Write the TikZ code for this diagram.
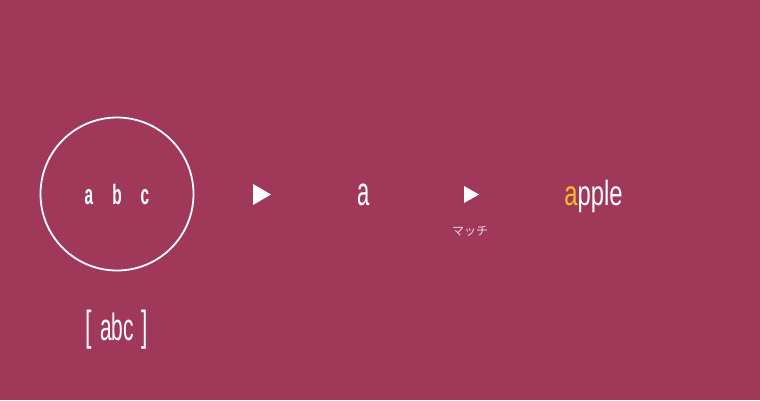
\documentclass[tikz,border=0pt]{standalone}
\usepackage{fontspec}
\newfontfamily\condfont[FakeStretch=0.55]{Liberation Sans}
\newfontfamily\widefont[FakeStretch=0.68]{Liberation Sans}
\newfontfamily\jpfont{Noto Sans CJK JP}
\usepackage{tikz}
\usetikzlibrary{positioning}
\definecolor{bgrose}{RGB}{160,56,90}
\definecolor{hitgold}{RGB}{248,186,40}
\definecolor{notepink}{RGB}{240,214,224}
\tikzset{word/.style={text=white,inner sep=0pt,anchor=base}}
\tikzset{ring/.style={draw=white,circle,line width=1.8pt,minimum size=153pt,inner sep=0pt,text=white}}

\begin{document}
\begin{tikzpicture}[x=1pt, y=-1pt, play/.style={fill=white}]
    \useasboundingbox[fill=bgrose] (0,0) rectangle (760,400);

    \node[ring, font=\condfont\bfseries\fontsize{28}{30}\selectfont] (set) at (117,194) {a\hspace{19pt}b\hspace{19pt}c};
    \node[word] (cls) at (117,340) {\fontsize{42}{44}\selectfont\condfont[\hspace{8pt}{\fontsize{38}{40}\selectfont abc}\hspace{8pt}]};

    \coordinate (play1) at (262,194.5);
    \coordinate (play2) at (471.5,194.5);
    \fill[play, shift={(play1)}] (-9,-10.5) -- (9,0) -- (-9,10.5) -- cycle;
    \fill[play, shift={(play2)}] (-7.5,-8.5) -- (7.5,0) -- (-7.5,8.5) -- cycle;

    \node[word, font=\condfont\fontsize{40}{42}\selectfont] (ch) at (364,205) {a};
    \node[text=notepink, inner sep=0pt, font=\jpfont\fontsize{12}{14}\selectfont] (hit) at (470,231.5) {マッチ};
    \node[word, font=\widefont\fontsize{35}{37}\selectfont] (fruit) at (593.5,205) {\textcolor{hitgold}{a}pple};
\end{tikzpicture}
\end{document}
